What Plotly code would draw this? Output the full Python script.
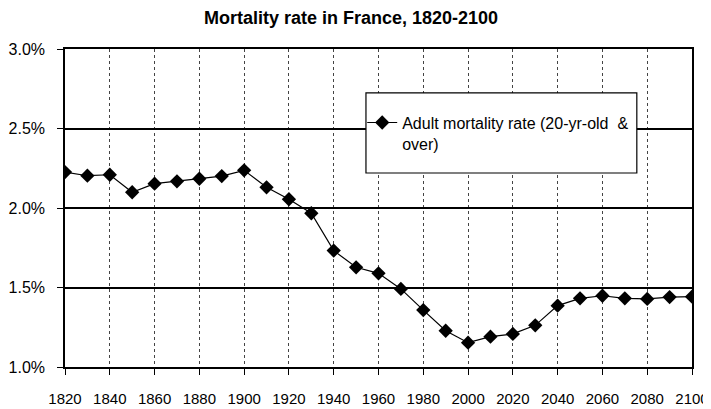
import plotly.graph_objects as go

# ── Dati ──────────────────────────────────────────
years = list(range(1820, 2101, 10))
adult_mortality = [
    2.226, 2.203, 2.209, 2.099, 2.153, 2.168, 2.184, 2.201, 2.237,
    2.130, 2.055, 1.967, 1.732, 1.627, 1.589, 1.491, 1.358, 1.228,
    1.153, 1.191, 1.208, 1.262, 1.386, 1.432, 1.448, 1.432, 1.428,
    1.440, 1.442,
]
series_name = "Adult mortality rate (20-yr-old  &<br>over)"
title_text = "Mortality rate in France, 1820-2100"

_FONT = "Liberation Sans, Arial, sans-serif"

fig = go.Figure(go.Scatter(
    x=years,
    y=[v / 100 for v in adult_mortality],
    mode="lines+markers",
    name=series_name,
    line=dict(color="black", width=1.2),
    marker=dict(symbol="diamond", size=11, color="black"),
))

# la pagina html ha 8px di margine sul body: la figura parte da (8, 8)
fig.update_layout(
    width=703,
    height=401,
    paper_bgcolor="white",
    plot_bgcolor="white",
    font=dict(family=_FONT, size=15, color="black"),
    margin=dict(l=57, r=19, t=41, b=42),
    title=dict(text="<b>" + title_text + "</b>", x=0.488, xanchor="center",
               y=0.975, yanchor="middle", font=dict(size=18)),
    showlegend=True,
    legend=dict(
        x=0.474, y=0.822, xanchor="left", yanchor="top",
        bgcolor="rgba(0,0,0,0)", borderwidth=0,
        valign="top", font=dict(size=16),
    ),
    xaxis=dict(
        range=[1820, 2100], dtick=20, tick0=1820,
        showgrid=True, gridcolor="#444", griddash="dot", gridwidth=1,
        showline=True, linecolor="black", linewidth=1.5, mirror=True,
        ticks="outside", ticklen=6, tickcolor="black",
        tickfont=dict(size=15),
        ticklabelstandoff=11, zeroline=False, automargin=False,
    ),
    yaxis=dict(
        range=[0.01, 0.03], dtick=0.005, tickformat=".1%",
        showgrid=True, gridcolor="black", gridwidth=1.5,
        showline=True, linecolor="black", linewidth=1.5, mirror=True,
        ticks="outside", ticklen=6, tickcolor="black",
        tickfont=dict(size=16),
        ticklabelstandoff=9, zeroline=False, automargin=False,
    ),
)

# riquadro della legenda
fig.add_shape(
    type="rect", xref="paper", yref="paper",
    x0=0.480, x1=0.912, y0=0.610, y1=0.862,
    line=dict(color="black", width=1.2), fillcolor="white", layer="above",
)

fig.write_html("out.html")
